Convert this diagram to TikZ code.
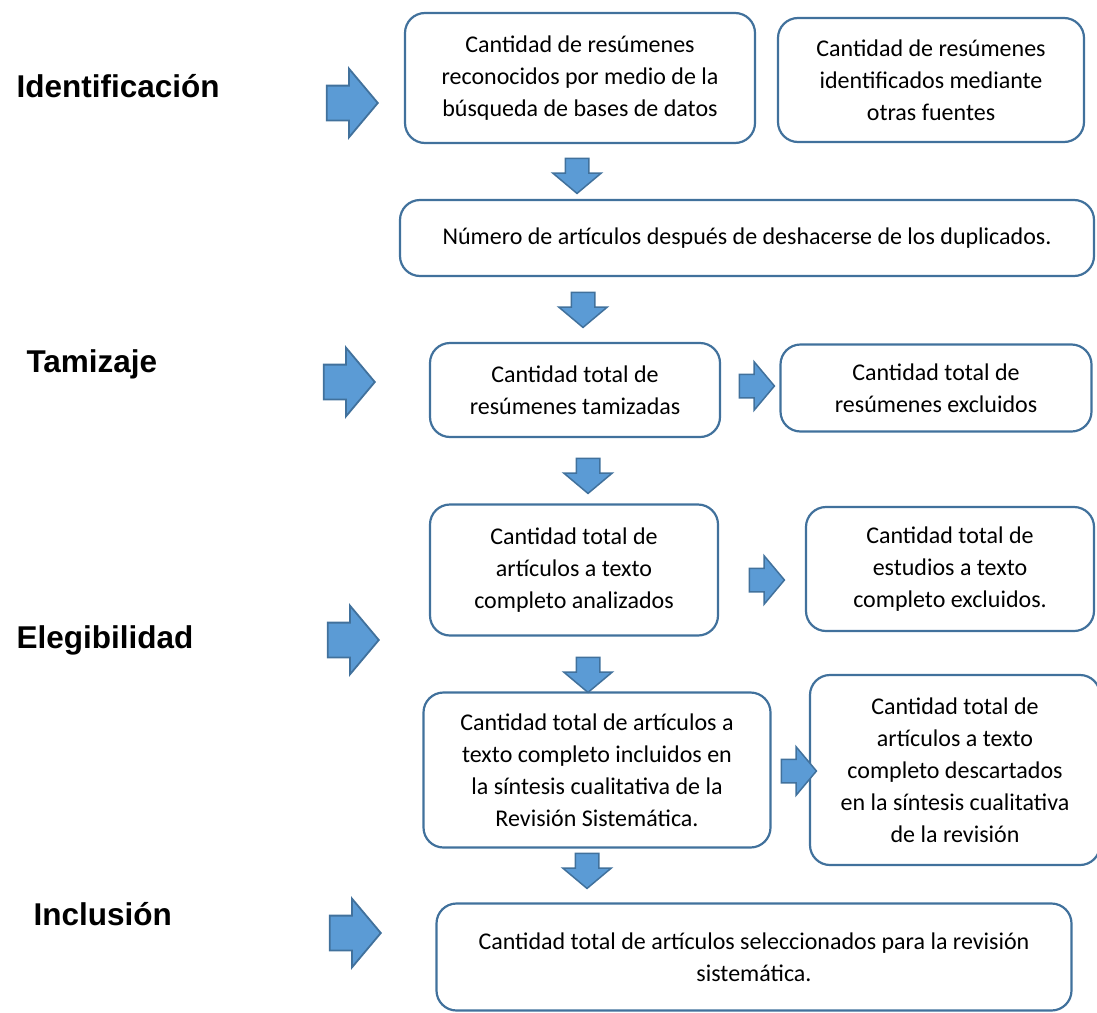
\documentclass[tikz,border=0pt]{standalone}
\usepackage{fontspec}
\setmainfont{Carlito}
\newfontfamily\stagefont{Liberation Sans}
\usetikzlibrary{shapes.arrows}

\definecolor{boxline}{RGB}{65,113,156}
\definecolor{arrowfill}{RGB}{91,155,213}

\begin{document}
\begin{tikzpicture}[
  x=1pt, y=-1pt,
  box/.style={
    rectangle,
    rounded corners=20pt,
    draw=boxline,
    line width=2.2pt,
    align=center,
    inner sep=0pt,
    font=\fontsize{24}{32}\selectfont
  },
  stage/.style={
    anchor=west,
    font=\stagefont\bfseries\fontsize{31.5}{36}\selectfont
  },
  bigarrow/.style={
    single arrow,
    draw=boxline,
    fill=arrowfill,
    line width=1.8pt,
    single arrow tip angle=100,
    minimum height=51pt,
    inner xsep=0pt,
    inner ysep=16.5pt,
    single arrow head extend=17pt
  },
  smallarrow/.style={
    single arrow,
    draw=boxline,
    fill=arrowfill,
    line width=1.5pt,
    single arrow tip angle=100,
    minimum height=35pt,
    inner xsep=0pt,
    inner ysep=11pt,
    single arrow head extend=12.5pt
  },
  down/.style={
    shape border rotate=270,
    inner xsep=11pt,
    inner ysep=0pt
  }
]
  \useasboundingbox (0,0) rectangle (1097,1012);

  % Stage labels
  \node[stage] (ident) at (13,86) {Identificación};
  \node[stage] (tamiz) at (23,364) {Tamizaje};
  \node[stage] (elegib) at (13,640) {Elegibilidad};
  \node[stage] (inclus) at (30,914) {Inclusión};

  % Stage arrows
  \node[bigarrow] (aident) at (345,103) {};
  \node[bigarrow] (atamiz) at (342,382) {};
  \node[bigarrow] (aelegib) at (346,640) {};
  \node[bigarrow] (ainclus) at (348,933) {};

  % Identification
  \node[box, minimum width=350pt, minimum height=130pt] (dbsearch) at (580,78)
    {Cantidad de resúmenes\\reconocidos por medio de la\\búsqueda de bases de datos};
  \node[box, minimum width=306pt, minimum height=124pt] (othersrc) at (931,80)
    {Cantidad de resúmenes\\identificados mediante\\otras fuentes};
  \node[box, minimum width=694pt, minimum height=76pt] (nodup) at (747,238)
    {Número de artículos después de deshacerse de los duplicados.};

  % Screening
  \node[box, minimum width=290pt, minimum height=94pt] (screened) at (575,390)
    {Cantidad total de\\resúmenes tamizadas};
  \node[box, minimum width=311pt, minimum height=87pt] (excluded) at (936,388)
    {Cantidad total de\\resúmenes excluidos};

  % Eligibility
  \node[box, minimum width=288pt, minimum height=131pt] (fulltext) at (574,570)
    {Cantidad total de\\artículos a texto\\completo analizados};
  \node[box, minimum width=288pt, minimum height=124pt] (ftexcl) at (950,569)
    {Cantidad total de\\estudios a texto\\completo excluidos.};
  \node[box, minimum width=347pt, minimum height=155pt] (qualin) at (597,770)
    {Cantidad total de artículos a\\texto completo incluidos en\\la síntesis cualitativa de la\\Revisión Sistemática.};
  \node[box, minimum width=290pt, minimum height=190pt] (qualout) at (955,770)
    {Cantidad total de\\artículos a texto\\completo descartados\\en la síntesis cualitativa\\de la revisión};

  % Inclusion
  \node[box, minimum width=635pt, minimum height=107pt] (final) at (754,957)
    {Cantidad total de artículos seleccionados para la revisión\\sistemática.};

  % Flow arrows
  \node[smallarrow, down] (d1) at (577,171) {};
  \node[smallarrow, down] (d2) at (583,305) {};
  \node[smallarrow, down] (d3) at (588,471) {};
  \node[smallarrow, down] (d4) at (588,670) {};
  \node[smallarrow, down] (d5) at (587,866) {};
  \node[smallarrow] (r1) at (752,386) {};
  \node[smallarrow] (r2) at (762,580) {};
  \node[smallarrow] (r3) at (794,771) {};

\end{tikzpicture}
\end{document}
